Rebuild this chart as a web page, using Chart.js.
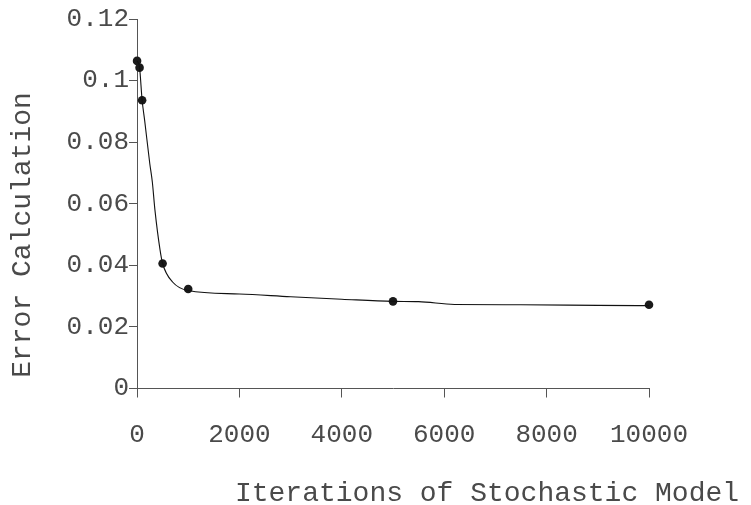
<!DOCTYPE html>
<html><head><meta charset="utf-8">
<script src="https://cdn.jsdelivr.net/npm/chart.js@4.4.0/dist/chart.umd.min.js"></script>
<style>html,body{margin:0;padding:0;background:#fff;} #wrap{width:751px;height:505px;}</style>
</head><body><div id="wrap"><canvas id="c" width="751" height="505"></canvas></div>
<script>
// Data
const markerX = [1, 50, 100, 500, 1000, 5000, 10000];
const markerY = [0.1064, 0.1042, 0.0936, 0.0406, 0.0323, 0.0283, 0.0272];
const curveX = [1, 50, 100, 150, 250, 300, 350, 450, 500, 700, 1000, 2000, 3000, 4000, 5000, 5500, 6200, 7500, 9000, 10000];
const curveY = [0.1064, 0.1042, 0.0936, 0.087, 0.073, 0.067, 0.058, 0.045, 0.0406, 0.0345, 0.0318, 0.0307, 0.0298, 0.029, 0.0283, 0.0282, 0.0273, 0.0272, 0.027, 0.0269];
const xTicks = [0, 2000, 4000, 6000, 8000, 10000];
const xTickLabels = ['0', '2000', '4000', '6000', '8000', '10000'];
const yTicks = [0, 0.02, 0.04, 0.06, 0.08, 0.1, 0.12];
const yTickLabels = ['0', '0.02', '0.04', '0.06', '0.08', '0.1', '0.12'];
const xTitle = 'Iterations of Stochastic Model';
const yTitle = 'Error Calculation';

const FONT = '"Liberation Mono", "Courier New", monospace';
const TEXT = '#4a4a4a';
const AXIS = '#555555';

const titlePlugin = {
  id: 'titles',
  afterDraw(chart) {
    const ctx = chart.ctx;
    ctx.save();
    ctx.fillStyle = TEXT;
    ctx.font = '28px ' + FONT;
    ctx.textAlign = 'center';
    ctx.textBaseline = 'middle';
    ctx.fillText(xTitle, 487, 494);
    ctx.translate(23, 235);
    ctx.rotate(-Math.PI / 2);
    ctx.fillText(yTitle, 0, 0);
    ctx.restore();
  }
};

new Chart(document.getElementById('c'), {
  type: 'scatter',
  data: {
    datasets: [
      {
        type: 'line',
        data: curveX.map((x, i) => ({ x: x, y: curveY[i] })),
        borderColor: '#111111',
        borderWidth: 1.1,
        pointRadius: 0,
        cubicInterpolationMode: 'monotone',
        fill: false,
        clip: false
      },
      {
        type: 'scatter',
        data: markerX.map((x, i) => ({ x: x, y: markerY[i] })),
        backgroundColor: '#1a1a1a',
        borderColor: '#1a1a1a',
        borderWidth: 0,
        pointRadius: 4.3,
        showLine: false,
        clip: false
      }
    ]
  },
  options: {
    responsive: false,
    animation: false,
    devicePixelRatio: 1,
    layout: { padding: { top: 19, right: 102, left: 0, bottom: 0 } },
    plugins: { legend: { display: false }, tooltip: { enabled: false } },
    scales: {
      x: {
        type: 'linear',
        min: 0, max: 10000,
        afterBuildTicks: s => { s.ticks = xTicks.map(v => ({ value: v })); },
        afterFit: s => { s.height = 116.5; },
        grid: { display: true, drawOnChartArea: false, drawTicks: true, tickLength: 9, color: AXIS, lineWidth: 1 },
        border: { display: true, color: AXIS, width: 1 },
        ticks: {
          color: TEXT, font: { family: FONT, size: 26 }, padding: 22, maxRotation: 0,
          callback: v => xTickLabels[xTicks.indexOf(v)]
        }
      },
      y: {
        type: 'linear',
        min: 0, max: 0.12,
        afterBuildTicks: s => { s.ticks = yTicks.map(v => ({ value: v })); },
        afterFit: s => { s.width = 137; },
        grid: { display: true, drawOnChartArea: false, drawTicks: true, tickLength: 8, color: AXIS, lineWidth: 1 },
        border: { display: true, color: AXIS, width: 1 },
        ticks: {
          color: TEXT, font: { family: FONT, size: 26 }, padding: 0,
          callback: v => { const i = yTicks.findIndex(t => Math.abs(t - v) < 1e-9); return i >= 0 ? yTickLabels[i] : ''; }
        }
      }
    }
  },
  plugins: [titlePlugin]
});
</script>
</body></html>
